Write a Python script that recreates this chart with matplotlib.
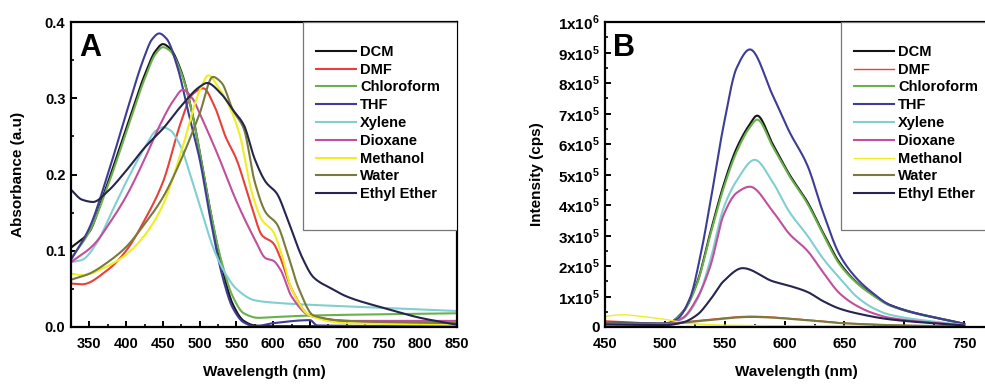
import numpy as np
import matplotlib.pyplot as plt
from matplotlib.patches import Rectangle
from matplotlib.ticker import MultipleLocator, FixedLocator

plt.rcParams['font.family'] = ['Liberation Sans', 'DejaVu Sans']
plt.rcParams['font.weight'] = 'bold'
plt.rcParams['mathtext.fontset'] = 'custom'
plt.rcParams['mathtext.rm'] = 'Liberation Sans:bold'
plt.rcParams['mathtext.bf'] = 'Liberation Sans:bold'

solvents = ['DCM', 'DMF', 'Chloroform', 'THF', 'Xylene', 'Dioxane', 'Methanol', 'Water', 'Ethyl Ether']
colors = ['#151515', '#e8403a', '#6ab04c', '#3d3d95', '#80cfd2', '#c0509c', '#eeee22', '#7a7a3a', '#25254f']

# ---- panel A: absorbance (wavelength nm, absorbance) ----
abs_dcm_x = [325, 350, 368, 400, 425, 440, 450, 460, 475, 490, 500, 515, 530, 545, 560, 575, 600, 700, 850]
abs_dcm_y = [0.104, 0.125, 0.17, 0.26, 0.33, 0.362, 0.371, 0.365, 0.335, 0.28, 0.23, 0.15, 0.08, 0.03, 0.008, 0.002, 0.001, 0.001, 0.001]
abs_dmf_x = [325, 340, 375, 400, 425, 450, 475, 490, 505, 520, 535, 550, 570, 585, 600, 610, 625, 650, 700, 850]
abs_dmf_y = [0.057, 0.056, 0.075, 0.1, 0.14, 0.19, 0.27, 0.305, 0.313, 0.29, 0.25, 0.22, 0.16, 0.12, 0.11, 0.09, 0.05, 0.015, 0.008, 0.005]
abs_chl_x = [325, 350, 375, 400, 425, 440, 450, 460, 475, 490, 500, 515, 530, 545, 560, 580, 600, 650, 850]
abs_chl_y = [0.09, 0.125, 0.185, 0.255, 0.325, 0.358, 0.367, 0.362, 0.333, 0.28, 0.23, 0.15, 0.085, 0.04, 0.018, 0.012, 0.013, 0.015, 0.018]
abs_thf_x = [325, 350, 375, 400, 425, 435, 445, 455, 470, 485, 500, 515, 530, 545, 560, 575, 600, 650, 660, 850]
abs_thf_y = [0.088, 0.13, 0.2, 0.28, 0.355, 0.377, 0.385, 0.378, 0.34, 0.28, 0.22, 0.14, 0.07, 0.025, 0.006, 0.001, 0.005, 0.009, 0.002, 0.001]
abs_xyl_x = [325, 340, 360, 380, 400, 425, 440, 450, 460, 475, 487, 500, 520, 535, 550, 575, 600, 700, 850]
abs_xyl_y = [0.085, 0.088, 0.11, 0.15, 0.19, 0.235, 0.257, 0.262, 0.258, 0.235, 0.2, 0.16, 0.1, 0.07, 0.05, 0.035, 0.032, 0.027, 0.021]
abs_dio_x = [325, 355, 380, 401, 425, 446, 465, 477, 490, 500, 525, 550, 575, 590, 600, 610, 625, 650, 700, 850]
abs_dio_y = [0.085, 0.107, 0.14, 0.173, 0.22, 0.265, 0.298, 0.311, 0.3, 0.28, 0.225, 0.165, 0.115, 0.09, 0.087, 0.075, 0.04, 0.015, 0.008, 0.008]
abs_met_x = [325, 340, 375, 400, 425, 450, 475, 500, 512, 525, 540, 555, 570, 585, 600, 610, 625, 650, 700, 850]
abs_met_y = [0.07, 0.068, 0.08, 0.095, 0.12, 0.16, 0.23, 0.31, 0.33, 0.315, 0.29, 0.25, 0.18, 0.14, 0.125, 0.1, 0.05, 0.015, 0.005, 0.003]
abs_wat_x = [325, 350, 375, 400, 425, 450, 475, 500, 518, 530, 545, 560, 575, 590, 605, 620, 635, 655, 700, 850]
abs_wat_y = [0.062, 0.07, 0.085, 0.105, 0.135, 0.17, 0.22, 0.28, 0.328, 0.32, 0.285, 0.26, 0.19, 0.15, 0.135, 0.095, 0.05, 0.015, 0.008, 0.005]
abs_eth_x = [325, 340, 355, 375, 400, 425, 450, 475, 500, 510, 530, 545, 560, 575, 590, 605, 620, 640, 655, 680, 700, 750, 800, 850]
abs_eth_y = [0.18, 0.167, 0.164, 0.178, 0.205, 0.235, 0.26, 0.29, 0.315, 0.32, 0.305, 0.285, 0.265, 0.22, 0.19, 0.175, 0.14, 0.09, 0.065, 0.05, 0.04, 0.025, 0.012, 0.003]

# ---- panel B: emission (wavelength nm, intensity cps) ----
em_dcm_x = [450, 500, 515, 527, 538, 549, 560, 571, 577, 590, 604, 619, 632, 646, 660, 674, 688, 750]
em_dcm_y = [12e3, 8e3, 50e3, 147e3, 310e3, 465e3, 587e3, 665e3, 693e3, 600e3, 500e3, 410e3, 310e3, 210e3, 147e3, 105e3, 72e3, 10e3]
em_dmf_x = [450, 500, 530, 572, 620, 650, 700, 750]
em_dmf_y = [20e3, 12e3, 22e3, 35e3, 23e3, 13e3, 5e3, 2e3]
em_chl_x = [450, 500, 515, 527, 538, 549, 560, 571, 577, 590, 604, 619, 632, 646, 660, 674, 688, 750]
em_chl_y = [12e3, 8e3, 48e3, 143e3, 303e3, 455e3, 575e3, 655e3, 680e3, 592e3, 495e3, 405e3, 305e3, 205e3, 145e3, 103e3, 70e3, 10e3]
em_thf_x = [450, 500, 510, 521, 530, 538, 549, 560, 571, 590, 604, 619, 632, 646, 660, 674, 688, 750]
em_thf_y = [15e3, 12e3, 25e3, 95e3, 240e3, 410e3, 660e3, 850e3, 910e3, 760e3, 640e3, 530e3, 377e3, 236e3, 160e3, 110e3, 72e3, 10e3]
em_xyl_x = [450, 500, 515, 527, 538, 549, 560, 575, 590, 604, 619, 632, 646, 660, 674, 688, 750]
em_xyl_y = [10e3, 8e3, 28e3, 90e3, 220e3, 390e3, 480e3, 548e3, 475e3, 377e3, 300e3, 225e3, 160e3, 100e3, 62e3, 40e3, 6e3]
em_dio_x = [450, 500, 515, 527, 538, 549, 560, 571, 590, 604, 619, 632, 646, 660, 674, 688, 750]
em_dio_y = [10e3, 8e3, 30e3, 95e3, 200e3, 367e3, 440e3, 460e3, 380e3, 305e3, 250e3, 180e3, 110e3, 70e3, 45e3, 30e3, 5e3]
em_met_x = [450, 465, 480, 500, 520, 550, 600, 750]
em_met_y = [35e3, 40e3, 35e3, 25e3, 12e3, 6e3, 4e3, 1e3]
em_wat_x = [450, 500, 530, 572, 620, 650, 700, 750]
em_wat_y = [12e3, 10e3, 20e3, 33e3, 22e3, 12e3, 5e3, 2e3]
em_eth_x = [450, 500, 515, 527, 538, 549, 565, 590, 604, 619, 632, 646, 660, 688, 750]
em_eth_y = [8e3, 6e3, 15e3, 40e3, 90e3, 150e3, 193e3, 150e3, 135e3, 115e3, 85e3, 60e3, 45e3, 25e3, 5e3]

abs_data = [(abs_dcm_x, abs_dcm_y), (abs_dmf_x, abs_dmf_y), (abs_chl_x, abs_chl_y),
            (abs_thf_x, abs_thf_y), (abs_xyl_x, abs_xyl_y), (abs_dio_x, abs_dio_y),
            (abs_met_x, abs_met_y), (abs_wat_x, abs_wat_y), (abs_eth_x, abs_eth_y)]
em_data = [(em_dcm_x, em_dcm_y), (em_dmf_x, em_dmf_y), (em_chl_x, em_chl_y),
           (em_thf_x, em_thf_y), (em_xyl_x, em_xyl_y), (em_dio_x, em_dio_y),
           (em_met_x, em_met_y), (em_wat_x, em_wat_y), (em_eth_x, em_eth_y)]

abs_xticks = [350, 400, 450, 500, 550, 600, 650, 700, 750, 800, 850]
abs_yticks = [0.0, 0.1, 0.2, 0.3, 0.4]
em_xticks = [450, 500, 550, 600, 650, 700, 750]
em_yticks = [0, 1e5, 2e5, 3e5, 4e5, 5e5, 6e5, 7e5, 8e5, 9e5, 1e6]
em_ylabels = ['0'] + ['%dx10$^{5}$' % k for k in range(1, 10)] + ['1x10$^{6}$']


def smooth(x, y):
    # monotone cubic through the read points, just for drawing
    x = np.asarray(x, float)
    y = np.asarray(y, float)
    xs = np.linspace(x[0], x[-1], 400)
    h = np.diff(x)
    d = np.diff(y) / h
    m = np.zeros_like(y)
    m[0], m[-1] = d[0], d[-1]
    for i in range(1, len(x) - 1):
        if d[i - 1] * d[i] > 0:
            w1, w2 = 2 * h[i] + h[i - 1], h[i] + 2 * h[i - 1]
            m[i] = (w1 + w2) / (w1 / d[i - 1] + w2 / d[i])
    idx = np.clip(np.searchsorted(x, xs) - 1, 0, len(x) - 2)
    t = (xs - x[idx]) / h[idx]
    h00 = 2 * t**3 - 3 * t**2 + 1
    h10 = t**3 - 2 * t**2 + t
    h01 = -2 * t**3 + 3 * t**2
    h11 = t**3 - t**2
    ys = h00 * y[idx] + h10 * h[idx] * m[idx] + h01 * y[idx + 1] + h11 * h[idx] * m[idx + 1]
    return xs, ys


def style_axes(ax, ysize=10.5):
    for s in ax.spines.values():
        s.set_linewidth(1.6)
    ax.tick_params(which='major', direction='in', length=4.5, width=1.4, labelsize=10.5, pad=4)
    ax.tick_params(axis='x', which='major', pad=7)
    ax.tick_params(axis='y', which='major', labelsize=ysize)
    ax.tick_params(which='minor', direction='in', length=2.5, width=1.2)
    for lab in ax.get_xticklabels() + ax.get_yticklabels():
        lab.set_fontweight('bold')


def add_legend(ax, x0):
    ax.add_patch(Rectangle((x0, 0.318), 1.0 - x0, 0.682, transform=ax.transAxes,
                           facecolor='white', edgecolor='#777777', lw=0.9, zorder=5))
    leg = ax.legend(loc='upper left', bbox_to_anchor=(x0 + 0.035, 0.925), frameon=False,
                    fontsize=10.5, handlelength=2.7, handletextpad=0.3, labelspacing=0.26,
                    borderpad=0, borderaxespad=0)
    leg.set_zorder(6)
    for t in leg.get_texts():
        t.set_fontweight('bold')


fig = plt.figure(figsize=(9.85, 3.85), dpi=100)
axA = fig.add_axes([71 / 985, 58 / 385, 386 / 985, 305 / 385])
axB = fig.add_axes([605 / 985, 58 / 385, 382 / 985, 305 / 385])

for (x, y), c, name in zip(abs_data, colors, solvents):
    xs, ys = smooth(x, y)
    axA.plot(xs, ys, color=c, lw=1.5, label=name)
axA.set_xlim(325, 850)
axA.set_ylim(0, 0.4)
axA.xaxis.set_major_locator(FixedLocator(abs_xticks))
axA.xaxis.set_minor_locator(MultipleLocator(25))
axA.yaxis.set_major_locator(FixedLocator(abs_yticks))
axA.yaxis.set_minor_locator(MultipleLocator(0.05))
axA.set_yticklabels(['%.1f' % v for v in abs_yticks])
axA.set_xlabel('Wavelength (nm)', fontsize=11, fontweight='bold', labelpad=10)
axA.set_ylabel('Absorbance (a.u)', fontsize=11, fontweight='bold', labelpad=14)
axA.text(0.022, 0.965, 'A', transform=axA.transAxes, fontsize=22, fontweight='bold', va='top')
style_axes(axA)
add_legend(axA, 0.601)

for (x, y), c, name in zip(em_data, colors, solvents):
    xs, ys = smooth(x, y)
    lw = 1.0 if name in ('DMF', 'Methanol') else 1.5
    axB.plot(xs, ys, color=c, lw=lw, label=name)
axB.set_xlim(450, 769)
axB.set_ylim(0, 1e6)
axB.xaxis.set_major_locator(FixedLocator(em_xticks))
axB.xaxis.set_minor_locator(MultipleLocator(25))
axB.yaxis.set_major_locator(FixedLocator(em_yticks))
axB.yaxis.set_minor_locator(MultipleLocator(5e4))
axB.set_yticklabels(em_ylabels)
axB.set_xlabel('Wavelength (nm)', fontsize=11, fontweight='bold', labelpad=10)
axB.set_ylabel('Intensity (cps)', fontsize=11, fontweight='bold', labelpad=10)
axB.text(0.022, 0.965, 'B', transform=axB.transAxes, fontsize=22, fontweight='bold', va='top')
style_axes(axB, ysize=11)
add_legend(axB, 0.618)

fig.savefig('out.png', dpi=100)
